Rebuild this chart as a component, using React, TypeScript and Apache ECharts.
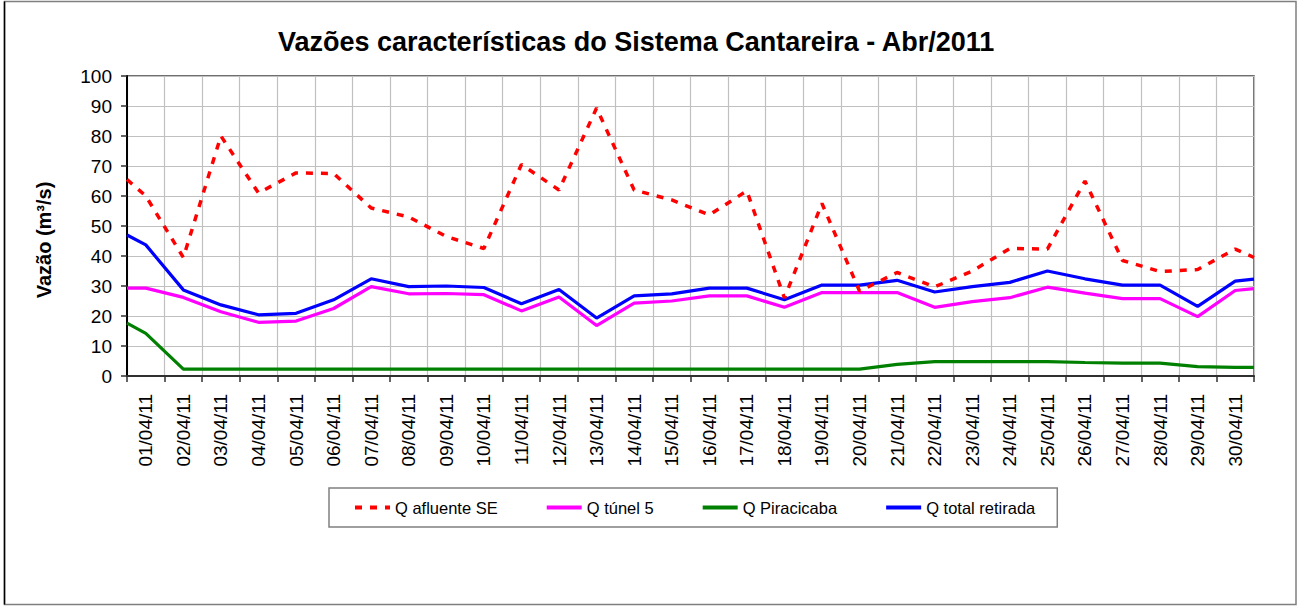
import React, { useEffect, useRef } from "react";
import * as echarts from "echarts";

const categories = [
  "01/04/11", "02/04/11", "03/04/11", "04/04/11", "05/04/11", "06/04/11", "07/04/11", "08/04/11",
  "09/04/11", "10/04/11", "11/04/11", "12/04/11", "13/04/11", "14/04/11", "15/04/11", "16/04/11",
  "17/04/11", "18/04/11", "19/04/11", "20/04/11", "21/04/11", "22/04/11", "23/04/11", "24/04/11",
  "25/04/11", "26/04/11", "27/04/11", "28/04/11", "29/04/11", "30/04/11",
];

// values at left plot edge, one per day (centre of each category), value at right plot edge
const qAfluente = [
  65.5,
  60, 39.5, 80, 61, 67.7, 67.5, 56, 53, 46.5, 42.5,
  70.5, 62, 89.3, 62, 58.7, 53.7, 61.7, 26, 57.5, 28.3,
  34.5, 29.7, 35, 42.5, 42.3, 65, 38.5, 34.8, 35.5, 42.3,
  39.5,
];
const qTunel5 = [
  29.3,
  29.3, 26.2, 21.4, 17.9, 18.3, 22.5, 29.8, 27.4, 27.5, 27.1,
  21.7, 26.3, 16.8, 24.3, 25, 26.7, 26.7, 22.9, 27.8, 27.8,
  27.8, 22.9, 24.8, 26.1, 29.6, 27.6, 25.8, 25.8, 19.8, 28.5,
  29.1,
];
const qPiracicaba = [
  17.6,
  14.2, 2.3, 2.3, 2.3, 2.3, 2.3, 2.3, 2.3, 2.3, 2.3,
  2.3, 2.3, 2.3, 2.3, 2.3, 2.3, 2.3, 2.3, 2.3, 2.3,
  3.9, 4.8, 4.8, 4.8, 4.8, 4.5, 4.3, 4.3, 3.1, 2.9,
  2.9,
];
const qTotal = [
  47,
  43.7, 28.7, 23.7, 20.4, 20.9, 25.4, 32.4, 29.8, 30, 29.5,
  24.1, 28.8, 19.3, 26.7, 27.4, 29.3, 29.3, 25.4, 30.3, 30.3,
  31.9, 28, 29.8, 31.2, 35, 32.4, 30.3, 30.3, 23.2, 31.6,
  32.3,
];

const seriesNames = ["Q afluente SE", "Q túnel 5", "Q Piracicaba", "Q total retirada"];
const titleText = "Vazões características do Sistema Cantareira - Abr/2011";
const yTitle = "Vazão (m³/s)";

const FONT = "'Liberation Sans', Arial, sans-serif";

function toPoints(values: number[]) {
  const n = categories.length;
  return values.map((v, i) => {
    let x: number;
    if (i === 0) x = 0;
    else if (i === values.length - 1) x = n;
    else x = i - 0.5;
    return [x, v];
  });
}

export default function App() {
  const ref = useRef<HTMLDivElement>(null);
  useEffect(() => {
    document.body.style.margin = "0";
    if (!ref.current) return;
    const chart = echarts.init(ref.current, undefined, { renderer: "svg" });
    chart.setOption({
      animation: false,
      backgroundColor: "#ffffff",
      title: {
        text: titleText,
        left: 273,
        top: 23,
        textStyle: { fontFamily: FONT, fontSize: 27, fontWeight: "bold", color: "#000" },
      },
      grid: {
        left: 127,
        top: 76,
        width: 1127,
        height: 300,
        show: true,
        borderColor: "#404040",
        borderWidth: 1.5,
        backgroundColor: "transparent",
      },
      legend: {
        data: seriesNames,
        left: 329,
        top: 488,
        orient: "horizontal",
        borderColor: "#808080",
        borderWidth: 1.5,
        padding: [11, 22, 11, 24],
        itemGap: 47,
        itemWidth: 35,
        itemHeight: 14,
        itemStyle: { opacity: 0 },
        lineStyle: { width: 4 },
        textStyle: { fontFamily: FONT, fontSize: 16.5, color: "#000" },
      },
      xAxis: [
        {
          type: "value",
          min: 0,
          max: categories.length,
          interval: 1,
          axisLine: { show: false },
          axisTick: { show: false },
          axisLabel: { show: false },
          splitLine: { show: true, lineStyle: { color: "#c0c0c0", width: 1.2 } },
        },
        {
          type: "category",
          data: categories,
          boundaryGap: true,
          position: "bottom",
          axisLine: { show: true, lineStyle: { color: "#303030", width: 2 } },
          axisTick: { show: true, length: 6, lineStyle: { color: "#303030", width: 1.5 } },
          axisLabel: {
            rotate: 90,
            margin: 18,
            interval: 0,
            fontFamily: FONT,
            fontSize: 19,
            color: "#000",
          },
          splitLine: { show: false },
        },
      ],
      yAxis: {
        type: "value",
        min: 0,
        max: 100,
        interval: 10,
        axisLine: { show: true, lineStyle: { color: "#000", width: 2 } },
        axisTick: { show: true, length: 6, lineStyle: { color: "#303030", width: 1.5 } },
        axisLabel: { margin: 15, fontFamily: FONT, fontSize: 19, color: "#000" },
        splitLine: { show: true, lineStyle: { color: "#c0c0c0", width: 1.2 } },
      },
      graphic: [
        {
          type: "rect",
          shape: { x: 4.5, y: 1.5, width: 1291.5, height: 603 },
          style: { fill: "none", stroke: "#7f7f7f", lineWidth: 1.5 },
          silent: true,
        },
        {
          type: "line",
          shape: { x1: 4.5, y1: 1.5, x2: 4.5, y2: 604.5 },
          style: { stroke: "#000", lineWidth: 1.5 },
          silent: true,
        },
        {
          type: "text",
          x: 44,
          y: 240,
          rotation: Math.PI / 2,
          style: {
            text: yTitle,
            fontFamily: FONT,
            fontSize: 20,
            fontWeight: "bold",
            fill: "#000",
            textAlign: "center",
            textVerticalAlign: "middle",
          },
          silent: true,
        },
      ],
      series: [
        {
          name: seriesNames[0],
          type: "line",
          xAxisIndex: 0,
          data: toPoints(qAfluente),
          symbol: "none",
          color: "#ff0000",
          lineStyle: { color: "#ff0000", width: 3.5, type: [7, 8] },
          z: 5,
        },
        {
          name: seriesNames[1],
          type: "line",
          xAxisIndex: 0,
          data: toPoints(qTunel5),
          symbol: "none",
          color: "#ff00ff",
          lineStyle: { color: "#ff00ff", width: 3.2 },
        },
        {
          name: seriesNames[2],
          type: "line",
          xAxisIndex: 0,
          data: toPoints(qPiracicaba),
          symbol: "none",
          color: "#008000",
          lineStyle: { color: "#008000", width: 3.2 },
        },
        {
          name: seriesNames[3],
          type: "line",
          xAxisIndex: 0,
          data: toPoints(qTotal),
          symbol: "none",
          color: "#0000ff",
          lineStyle: { color: "#0000ff", width: 3.2 },
        },
      ],
    });
    return () => chart.dispose();
  }, []);
  return <div ref={ref} style={{ width: 1297, height: 606 }} />;
}
